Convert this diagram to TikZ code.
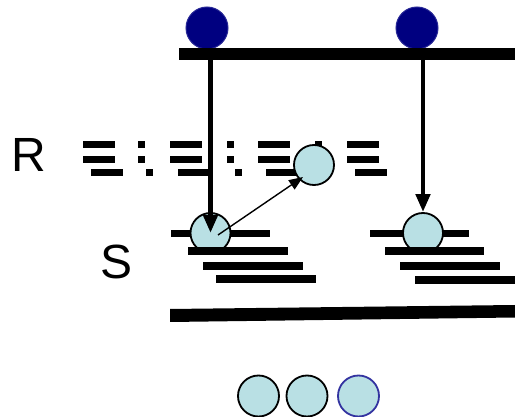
\documentclass[tikz,border=0pt]{standalone}
\usepackage{fontspec}
\setmainfont{Liberation Sans}
\usetikzlibrary{arrows.meta}
\definecolor{ballfill}{RGB}{185,224,228}
\definecolor{navyfill}{RGB}{0,0,128}
\definecolor{navyedge}{RGB}{40,40,150}
\definecolor{blueedge}{RGB}{51,51,160}
\newcommand\myRgroup[1]{%
  \fill (#1,141) rectangle ({#1+32},148);
  \fill (#1,156) rectangle ({#1+32},163);
  \fill ({#1+8},169) rectangle ({#1+40},176);}
\newcommand\myRdots[1]{%
  \fill (#1,141) rectangle ({#1+7},148);
  \fill (#1,156) rectangle ({#1+7},163);
  \fill ({#1+8},169) rectangle ({#1+15},176);}
\begin{document}
\begin{tikzpicture}[x=1pt,y=-1pt,
 navy/.style={circle,fill=navyfill,draw=navyedge,line width=1pt,minimum size=42pt,inner sep=0pt},
 ball/.style={circle,fill=ballfill,draw=black,line width=1.8pt,minimum size=40pt,inner sep=0pt},
 bigarrow/.style={line width=4.5pt,-{Triangle[width=14pt,length=18pt]}},
 smallarrow/.style={line width=1.4pt,-{Triangle[width=11pt,length=14pt]}},
 lbl/.style={font=\fontsize{48}{48}\selectfont,inner sep=0pt,anchor=base}]
\useasboundingbox (0,0) rectangle (515,417);
% top
\node[navy] (n1) at (207,28) {};
\node[navy] (n2) at (417,28) {};
\fill (179,48) rectangle (515,60);
\coordinate (t1) at (210.5,54);
\coordinate (t2) at (423,54);
% R row
\myRgroup{83}
\myRdots{138}
\myRgroup{170}
\myRdots{227}
\myRgroup{258}
\myRdots{315}
\myRgroup{347}
\node[ball] (m1) at (314,165) {};
% S rows
\fill (171,230) rectangle (270,237);
\fill (370,230) rectangle (469,237);
\node[ball] (b1) at (210.5,233) {};
\node[ball] (r1) at (423,233) {};
\fill (188,247) rectangle (288,255);
\fill (203,262) rectangle (303,270);
\fill (216,275) rectangle (316,283);
\fill (385,247) rectangle (484,255);
\fill (400,262) rectangle (500,270);
\fill (415,276) rectangle (515,284);
% bottom line
\fill (170,309) -- (515,305) -- (515,317.5) -- (170,322) -- cycle;
% arrows
\draw[bigarrow] (t1) -- (b1.center);
\draw[bigarrow] (t2) -- (r1.north);
\coordinate (a0) at (218,235);
\coordinate (a1) at (303,177);
\draw[smallarrow] (a0) -- (a1);
% bottom circles
\node[ball,minimum size=41pt] (c1) at (258.5,396) {};
\node[ball,minimum size=41pt] (c2) at (307,396) {};
\node[ball,minimum size=41pt,draw=blueedge] (c3) at (358.5,396) {};
% labels
\node[lbl] (R) at (29,172) {R};
\node[lbl] (S) at (117,279) {S};
\end{tikzpicture}
\end{document}
